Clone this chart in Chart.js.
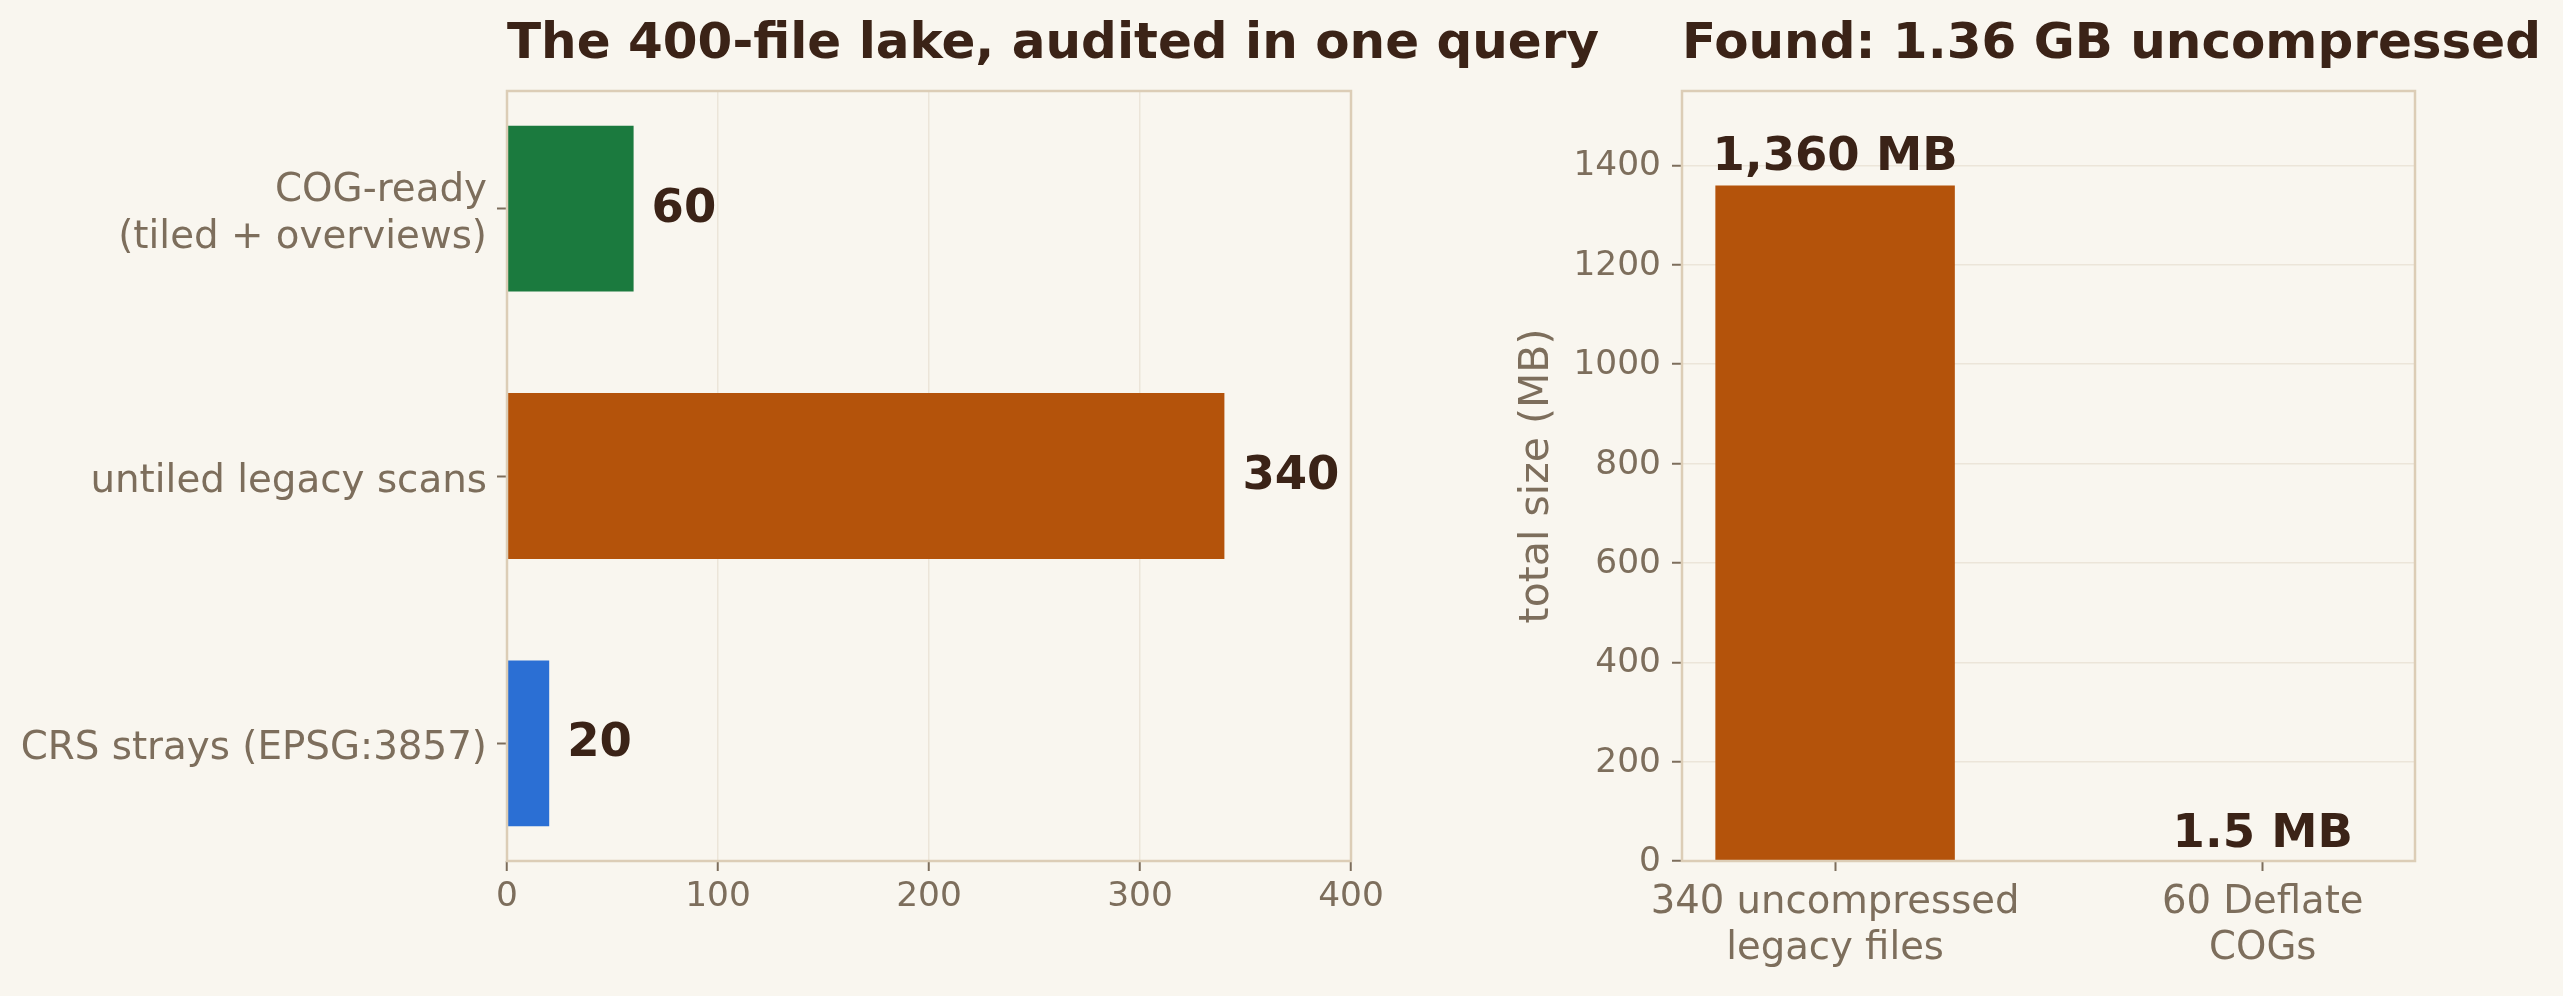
<!DOCTYPE html>
<html><head><meta charset="utf-8">
<script src="https://cdn.jsdelivr.net/npm/chart.js@4.4.1/dist/chart.umd.min.js"></script>
<style>
html,body{margin:0;padding:0;background:#f9f6ef;width:2563px;height:996px;overflow:hidden}
canvas{position:absolute;top:0;left:0}
</style></head><body>
<canvas id="c1" width="2563" height="996"></canvas>
<canvas id="c2" width="2563" height="996"></canvas>
<script>
// ---- data ----
const auditCategories = [['COG-ready', '(tiled + overviews)'], 'untiled legacy scans', 'CRS strays (EPSG:3857)'];
const auditCounts = [60, 340, 20];
const auditColors = ['#1b7a3e', '#b4530b', '#2b6fd4'];
const auditTitle = 'The 400-file lake, audited in one query';

const sizeCategories = [['340 uncompressed', 'legacy files'], ['60 Deflate', 'COGs']];
const sizeValuesMB = [1360, 1.5];
const sizeLabels = ['1,360 MB', '1.5 MB'];
const sizeColors = ['#b4530b', '#1b7a3e'];
const sizeTitle = 'Found: 1.36 GB uncompressed';
const sizeAxisTitle = 'total size (MB)';

// ---- style ----
const FONT = "'DejaVu Sans', sans-serif";
const TXT_DARK = '#3b2317';
const TXT_TICK = '#7d6e5c';
const SPINE = '#dccdb6';
const GRID = '#ece5d9';

const boxAndText = {
  id: 'boxAndText',
  afterDatasetsDraw(chart, args, opts) {
    const ctx = chart.ctx, a = chart.chartArea;
    ctx.save();
    ctx.strokeStyle = SPINE;
    ctx.lineWidth = 2.5;
    ctx.strokeRect(a.left, a.top, a.right - a.left, a.bottom - a.top);
    // value labels
    const meta = chart.getDatasetMeta(0);
    ctx.fillStyle = TXT_DARK;
    ctx.font = 'bold 46.5px ' + FONT;
    meta.data.forEach((el, i) => {
      const lab = opts.labels[i];
      if (opts.horizontal) {
        ctx.textAlign = 'left';
        ctx.textBaseline = 'middle';
        ctx.fillText(lab, el.x + 18, el.y + 1);
      } else {
        ctx.textAlign = 'center';
        ctx.textBaseline = 'alphabetic';
        ctx.fillText(lab, el.x, el.y - opts.offsets[i]);
      }
    });
    // title
    ctx.font = 'bold 50px ' + FONT;
    ctx.textAlign = 'left';
    ctx.textBaseline = 'alphabetic';
    ctx.fillText(opts.title, a.left, 58);
    ctx.restore();
  }
};

Chart.defaults.font.family = FONT;
Chart.defaults.color = TXT_TICK;

new Chart(document.getElementById('c1'), {
  type: 'bar',
  data: {
    datasets: [{
      data: auditCounts.map((v, i) => ({ x: v, y: i })),
      backgroundColor: auditColors,
      barPercentage: 0.62,
      categoryPercentage: 1.0,
      borderWidth: 0
    }]
  },
  options: {
    indexAxis: 'y',
    responsive: false,
    animation: false,
    devicePixelRatio: 1,
    layout: { padding: { left: 0, top: 91, right: 1212, bottom: 0 } },
    plugins: {
      legend: { display: false }, tooltip: { enabled: false },
      boxAndText: { horizontal: true, labels: auditCounts.map(String), title: auditTitle }
    },
    scales: {
      x: {
        type: 'linear', min: 0, max: 400,
        afterFit(s) { s.height = 135; },
        grid: { color: GRID, lineWidth: 1.5, tickColor: TXT_TICK, tickWidth: 2, tickLength: 10 },
        border: { display: false },
        ticks: { stepSize: 100, font: { size: 34.4 }, color: TXT_TICK, padding: 5, maxRotation: 0 }
      },
      y: {
        type: 'linear', min: -0.44, max: 2.44, reverse: true, offset: false,
        afterBuildTicks(s) { s.ticks = auditCategories.map((c, i) => ({ value: i })); },
        afterFit(s) { s.width = 507; },
        grid: { offset: false, drawOnChartArea: false, tickColor: TXT_TICK, tickWidth: 2, tickLength: 10 },
        border: { display: false },
        ticks: {
          callback: v => auditCategories[v],
          font: { size: 38.8, lineHeight: 1.2 }, color: TXT_TICK, padding: 10, autoSkip: false,
          labelOffset: 6
        }
      }
    }
  },
  plugins: [boxAndText]
});

new Chart(document.getElementById('c2'), {
  type: 'bar',
  data: {
    datasets: [{
      data: sizeValuesMB.map((v, i) => ({ x: i, y: v })),
      backgroundColor: sizeColors,
      barPercentage: 0.56,
      categoryPercentage: 1.0,
      borderWidth: 0
    }]
  },
  options: {
    responsive: false,
    animation: false,
    devicePixelRatio: 1,
    layout: { padding: { left: 1400, top: 91, right: 148, bottom: 0 } },
    plugins: {
      legend: { display: false }, tooltip: { enabled: false },
      boxAndText: { horizontal: false, labels: sizeLabels, offsets: [15, 13], title: sizeTitle }
    },
    scales: {
      x: {
        type: 'linear', min: -0.358, max: 1.356, offset: false,
        afterBuildTicks(s) { s.ticks = sizeCategories.map((c, i) => ({ value: i })); },
        afterFit(s) { s.height = 135; },
        grid: { offset: false, drawOnChartArea: false, tickColor: TXT_TICK, tickWidth: 2, tickLength: 10 },
        border: { display: false },
        ticks: {
          callback: v => sizeCategories[v],
          font: { size: 38.6, lineHeight: 1.2 }, color: TXT_TICK, padding: 9, maxRotation: 0, autoSkip: false
        }
      },
      y: {
        type: 'linear', min: 0, max: 1550,
        afterBuildTicks(s) { s.ticks = s.ticks.filter(t => t.value % 200 === 0 && t.value <= 1400); },
        afterFit(s) { s.width = 282; },
        grid: { color: GRID, lineWidth: 1.5, tickColor: TXT_TICK, tickWidth: 2, tickLength: 10 },
        border: { display: false },
        ticks: { stepSize: 200, font: { size: 34.4 }, color: TXT_TICK, padding: 11, labelOffset: 1, callback: v => String(v) },
        title: {
          display: true, text: sizeAxisTitle, color: TXT_TICK,
          font: { size: 41, lineHeight: 1.2 }, padding: { top: 113, bottom: 0 }
        }
      }
    }
  },
  plugins: [boxAndText]
});
</script>
</body></html>
